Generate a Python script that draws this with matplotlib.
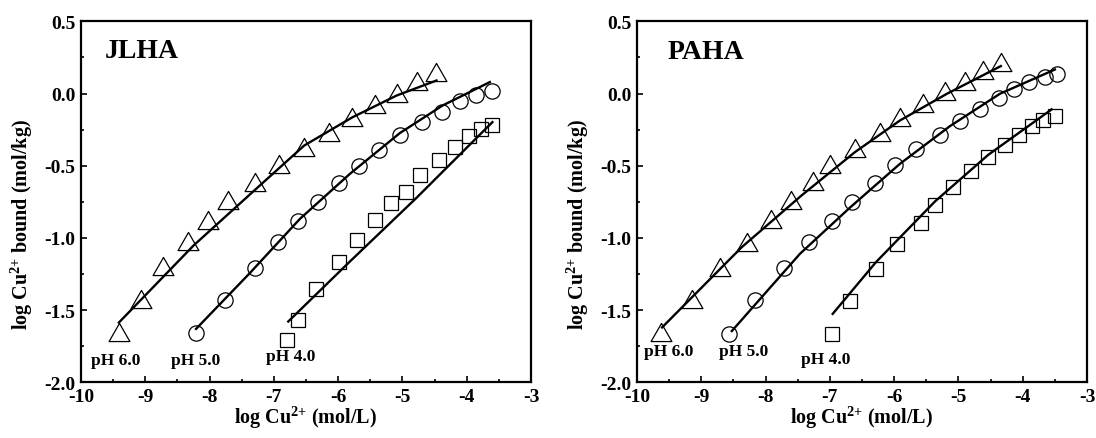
import numpy as np
import matplotlib
matplotlib.use("Agg")
import matplotlib.pyplot as plt
from matplotlib.path import Path
from matplotlib.ticker import MultipleLocator

plt.rcParams.update({
    "font.family": "Liberation Serif",
    "font.weight": "bold",
    "font.size": 11,
    "mathtext.fontset": "custom",
    "mathtext.rm": "Liberation Serif:bold",
    "mathtext.it": "Liberation Serif:bold",
    "mathtext.bf": "Liberation Serif:bold",
    "mathtext.default": "rm",
})

# ── JLHA data ────────────────────────────────────────────────────
jl_tri_x = [-9.41, -9.06, -8.72, -8.33, -8.02, -7.71, -7.29, -6.92, -6.53, -6.14, -5.78, -5.43, -5.09, -4.78, -4.47]
jl_tri_y = [-1.655, -1.425, -1.195, -1.02, -0.878, -0.74, -0.61, -0.485, -0.372, -0.268, -0.166, -0.073, 0.005, 0.088, 0.148]
jl_cir_x = [-8.21, -7.76, -7.29, -6.93, -6.62, -6.31, -5.98, -5.67, -5.36, -5.04, -4.70, -4.38, -4.11, -3.85, -3.61]
jl_cir_y = [-1.66, -1.43, -1.21, -1.03, -0.885, -0.75, -0.62, -0.50, -0.39, -0.29, -0.195, -0.125, -0.05, -0.01, 0.02]
jl_sq_x = [-6.79, -6.63, -6.345, -5.99, -5.70, -5.43, -5.17, -4.94, -4.72, -4.435, -4.175, -3.96, -3.77, -3.60]
jl_sq_y = [-1.706, -1.567, -1.352, -1.168, -1.013, -0.879, -0.759, -0.679, -0.563, -0.459, -0.371, -0.295, -0.249, -0.221]

# fitted curves
jl_fit6_x = [-9.41, -8.25, -7.345, -6.527, -5.775, -5.09, -4.47]
jl_fit6_y = [-1.586, -1.053, -0.688, -0.36, -0.164, -0.014, 0.09]
jl_fit5_x = [-8.21, -7.37, -6.594, -5.816, -5.04, -4.375, -3.64]
jl_fit5_y = [-1.63, -1.242, -0.868, -0.556, -0.274, -0.083, 0.079]
jl_fit4_x = [-6.776, -5.816, -4.78, -3.60]
jl_fit4_y = [-1.579, -1.163, -0.722, -0.198]

# ── PAHA data ────────────────────────────────────────────────────
pa_tri_x = [-9.63, -9.14, -8.71, -8.29, -7.92, -7.60, -7.26, -7.0, -6.61, -6.22, -5.91, -5.55, -5.21, -4.90, -4.61, -4.33]
pa_tri_y = [-1.655, -1.425, -1.20, -1.03, -0.87, -0.736, -0.607, -0.487, -0.375, -0.267, -0.163, -0.064, 0.014, 0.09, 0.16, 0.217]
pa_cir_x = [-8.57, -8.17, -7.71, -7.32, -6.965, -6.65, -6.30, -5.99, -5.66, -5.29, -4.977, -4.66, -4.366, -4.13, -3.895, -3.66, -3.46]
pa_cir_y = [-1.666, -1.432, -1.207, -1.03, -0.883, -0.75, -0.62, -0.494, -0.385, -0.287, -0.19, -0.107, -0.03, 0.031, 0.083, 0.115, 0.135]
pa_sq_x = [-6.97, -6.69, -6.29, -5.955, -5.59, -5.365, -5.08, -4.81, -4.54, -4.27, -4.05, -3.85, -3.68, -3.50]
pa_sq_y = [-1.665, -1.435, -1.213, -1.04, -0.897, -0.77, -0.646, -0.537, -0.438, -0.355, -0.289, -0.228, -0.183, -0.156]

pa_fit6_x = [-9.61, -8.37, -7.44, -6.61, -5.91, -5.18, -4.34]
pa_fit6_y = [-1.62, -1.064, -0.706, -0.406, -0.187, -0.002, 0.19]
pa_fit5_x = [-8.525, -7.465, -6.687, -5.91, -5.132, -4.355, -3.50]
pa_fit5_y = [-1.645, -1.11, -0.79, -0.487, -0.226, -0.002, 0.166]
pa_fit4_x = [-6.956, -6.283, -5.366, -4.537, -3.55]
pa_fit4_y = [-1.526, -1.168, -0.748, -0.425, -0.11]

ph_labels = ["pH 6.0", "pH 5.0", "pH 4.0"]
jl_ph_pos = [(-9.84, -1.843), (-8.60, -1.843), (-7.13, -1.82)]
pa_ph_pos = [(-9.89, -1.78), (-8.73, -1.78), (-7.45, -1.84)]

# open triangle, a bit wider than tall
TRI = Path([(0, 0.87), (-1, -0.87), (1, -0.87), (0, 0.87)], closed=True)

fig = plt.figure(figsize=(10.96, 4.39), dpi=100)
ax1 = fig.add_axes([81 / 1096, 55.7 / 439, 450 / 1096, 361 / 439])
ax2 = fig.add_axes([637 / 1096, 55.7 / 439, 450 / 1096, 361 / 439])


def draw_panel(ax, name, name_pos, tri, cir, sq, fits, ph_pos):
    mk = dict(linestyle="none", markerfacecolor="none",
              markeredgecolor="black", markeredgewidth=0.9, zorder=3)
    ax.plot(tri[0], tri[1], marker=TRI, markersize=15, **mk)
    ax.plot(cir[0], cir[1], marker="o", markersize=11, **mk)
    ax.plot(sq[0], sq[1], marker="s", markersize=10, **mk)
    for fx, fy in fits:
        ax.plot(fx, fy, color="black", linewidth=1.7, zorder=4)

    ax.text(name_pos[0], name_pos[1], name, fontsize=20, fontweight="bold",
            va="center", ha="left")
    for lab, (px, py) in zip(ph_labels, ph_pos):
        ax.text(px, py, lab, fontsize=12.5, fontweight="bold",
                va="center", ha="left")

    ax.set_xlim(-10, -3)
    ax.set_ylim(-2.0, 0.5)
    ax.xaxis.set_minor_locator(MultipleLocator(0.5))
    ax.yaxis.set_minor_locator(MultipleLocator(0.25))
    ax.set_xticks(np.arange(-10, -2, 1))
    ax.set_xticklabels([str(v) for v in range(-10, -2)])
    ax.set_yticks(np.arange(-2.0, 0.51, 0.5))
    ax.set_yticklabels([f"{v:.1f}" for v in np.arange(-2.0, 0.51, 0.5)])
    ax.tick_params(which="both", direction="in", top=False, right=False,
                   width=1.2, labelsize=14)
    ax.tick_params(which="major", length=4.5)
    ax.tick_params(which="minor", length=2.5)
    ax.tick_params(axis="x", pad=4)
    ax.tick_params(axis="y", pad=4)
    for sp in ax.spines.values():
        sp.set_linewidth(1.6)

    ax.set_xlabel(r"log Cu$^{2{+}}$ (mol/L)", fontsize=14.5, fontweight="bold",
                  labelpad=-1)
    ax.set_ylabel(r"log Cu$^{2{+}}$ bound (mol/kg)", fontsize=14.5,
                  fontweight="bold")
    ax.yaxis.set_label_coords(-0.102, 0.44)


draw_panel(ax1, "JLHA", (-9.63, 0.296),
           (jl_tri_x, jl_tri_y), (jl_cir_x, jl_cir_y), (jl_sq_x, jl_sq_y),
           [(jl_fit6_x, jl_fit6_y), (jl_fit5_x, jl_fit5_y), (jl_fit4_x, jl_fit4_y)],
           jl_ph_pos)
draw_panel(ax2, "PAHA", (-9.52, 0.288),
           (pa_tri_x, pa_tri_y), (pa_cir_x, pa_cir_y), (pa_sq_x, pa_sq_y),
           [(pa_fit6_x, pa_fit6_y), (pa_fit5_x, pa_fit5_y), (pa_fit4_x, pa_fit4_y)],
           pa_ph_pos)

fig.savefig("out.png", dpi=100)
